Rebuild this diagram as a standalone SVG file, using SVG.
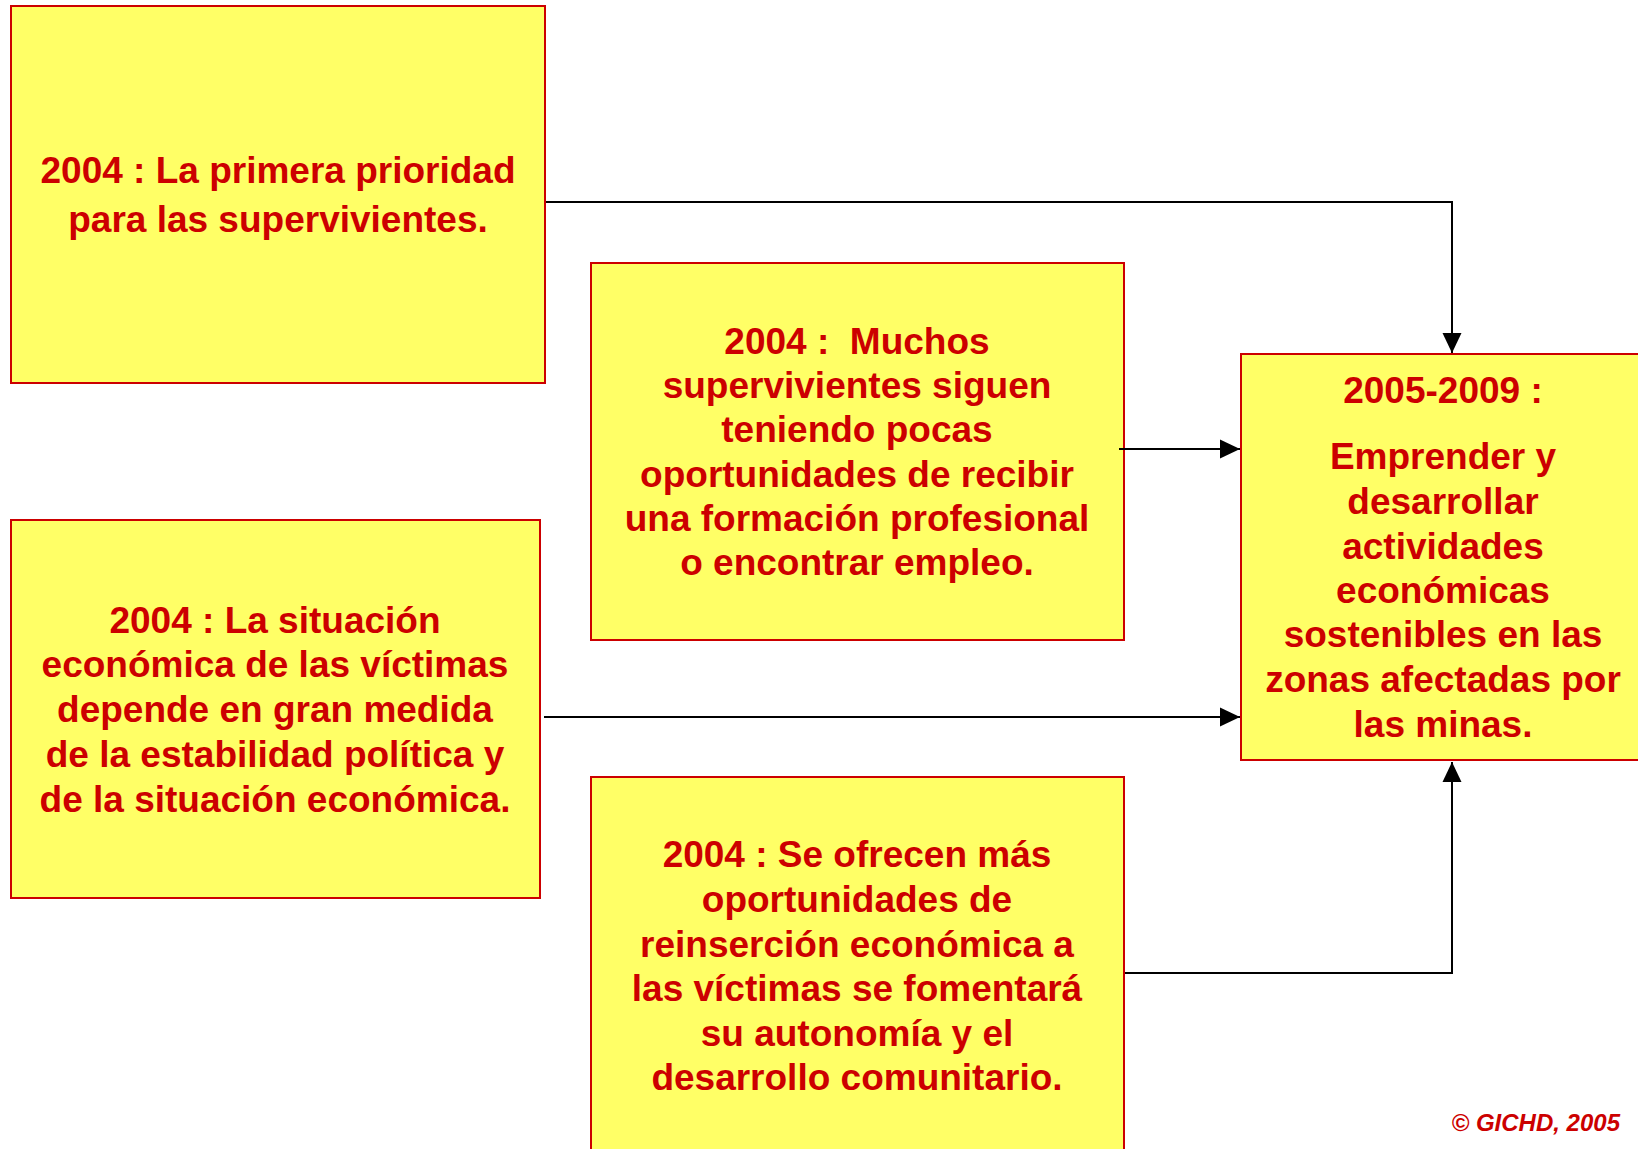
<svg xmlns="http://www.w3.org/2000/svg" width="1638" height="1149" viewBox="0 0 1638 1149">
<style>
.box{fill:#FFFF66;stroke:#CC0000;stroke-width:2}
.t{font-family:"Liberation Sans",Arial,sans-serif;font-weight:bold;font-size:37px;fill:#CC0000;text-anchor:middle}
.c{fill:none;stroke:#000;stroke-width:2}
.copy{font-family:"Liberation Sans",Arial,sans-serif;font-weight:bold;font-style:italic;font-size:24px;fill:#CC0000;text-anchor:end}
</style>
<defs>
<marker id="arr" markerUnits="userSpaceOnUse" markerWidth="20" markerHeight="20" refX="20" refY="10" orient="auto">
<path d="M0,0.5 L20,10 L0,19.5 z" fill="#000"/>
</marker>
</defs>
<rect width="1638" height="1149" fill="#fff"/>
<g id="node1">
<rect class="box" x="11" y="6" width="534" height="377"/>
<text class="t"><tspan x="278" y="183">2004 : La primera prioridad</tspan><tspan x="278" y="232">para las supervivientes.</tspan></text>
</g>
<g id="node2">
<rect class="box" x="591" y="263" width="533" height="377"/>
<text class="t"><tspan x="857" y="354">2004 :&#160; Muchos</tspan><tspan x="857" y="398">supervivientes siguen</tspan><tspan x="857" y="442">teniendo pocas</tspan><tspan x="857" y="487">oportunidades de recibir</tspan><tspan x="857" y="531">una formación profesional</tspan><tspan x="857" y="575">o encontrar empleo.</tspan></text>
</g>
<g id="node3">
<rect class="box" x="11" y="520" width="529" height="378"/>
<text class="t"><tspan x="275" y="633">2004 : La situación</tspan><tspan x="275" y="677">económica de las víctimas</tspan><tspan x="275" y="722">depende en gran medida</tspan><tspan x="275" y="767">de la estabilidad política y</tspan><tspan x="275" y="812">de la situación económica.</tspan></text>
</g>
<g id="node4">
<rect class="box" x="591" y="777" width="533" height="390"/>
<text class="t"><tspan x="857" y="867">2004 : Se ofrecen más</tspan><tspan x="857" y="912">oportunidades de</tspan><tspan x="857" y="957">reinserción económica a</tspan><tspan x="857" y="1001">las víctimas se fomentará</tspan><tspan x="857" y="1046">su autonomía y el</tspan><tspan x="857" y="1090">desarrollo comunitario.</tspan></text>
</g>
<g id="node5">
<rect class="box" x="1241" y="354" width="420" height="406"/>
<text class="t"><tspan x="1443" y="403">2005-2009 :</tspan><tspan x="1443" y="469">Emprender y</tspan><tspan x="1443" y="514">desarrollar</tspan><tspan x="1443" y="559">actividades</tspan><tspan x="1443" y="603">económicas</tspan><tspan x="1443" y="647">sostenibles en las</tspan><tspan x="1443" y="692">zonas afectadas por</tspan><tspan x="1443" y="737">las minas.</tspan></text>
</g>
<g id="connectors">
<path class="c" d="M546,202 H1452 V353" marker-end="url(#arr)"/>
<path class="c" d="M1119,449 H1240" marker-end="url(#arr)"/>
<path class="c" d="M544,717 H1240" marker-end="url(#arr)"/>
<path class="c" d="M1125,973 H1452 V762" marker-end="url(#arr)"/>
</g>
<text class="copy" x="1620" y="1131">© GICHD, 2005</text>
</svg>
